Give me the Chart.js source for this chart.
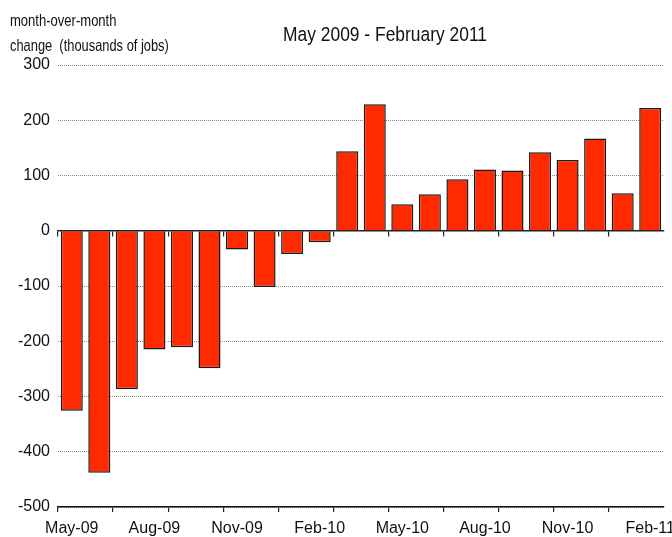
<!DOCTYPE html>
<html>
<head>
<meta charset="utf-8">
<script src="https://cdn.jsdelivr.net/npm/chart.js@4.4.1/dist/chart.umd.min.js"></script>
<style>
  html, body { margin: 0; padding: 0; background: #fff; overflow: hidden; }
  #wrap { width: 672px; height: 537px; }
</style>
</head>
<body>
<div id="wrap"><canvas id="c" width="672" height="537"></canvas></div>
<script>
// ---- data ----
const months = ['May-09','Jun-09','Jul-09','Aug-09','Sep-09','Oct-09','Nov-09','Dec-09',
                'Jan-10','Feb-10','Mar-10','Apr-10','May-10','Jun-10','Jul-10','Aug-10',
                'Sep-10','Oct-10','Nov-10','Dec-10','Jan-11','Feb-11'];
const jobChange = [-326, -438, -287, -215, -211, -249, -34, -102, -42, -21,
                   144, 229, 48, 66, 93, 111, 109, 142, 128, 167, 68, 222];
const yTicks = [300, 200, 100, 0, -100, -200, -300, -400, -500];
const chartTitle = 'May 2009 - February 2011';
const axisTitle = ['month-over-month', 'change  (thousands of jobs)'];

const FONT = '"Liberation Sans", Arial, sans-serif';

// draws condensed text (horizontally squeezed) as real canvas text
function condensedText(ctx, txt, x, y, size, squeeze) {
  ctx.save();
  ctx.translate(x, y);
  ctx.scale(squeeze, 1);
  ctx.font = size + 'px ' + FONT;
  ctx.fillText(txt, 0, 0);
  ctx.restore();
}

const textPlugin = {
  id: 'texts',
  afterDraw(chart) {
    const ctx = chart.ctx;
    ctx.save();
    ctx.fillStyle = '#111';
    ctx.textAlign = 'left';
    ctx.textBaseline = 'alphabetic';
    condensedText(ctx, chartTitle, 283, 41, 20.5, 0.85);
    condensedText(ctx, axisTitle[0], 10, 26, 16.5, 0.79);
    condensedText(ctx, axisTitle[1], 10, 51, 16.5, 0.78);
    ctx.restore();
  }
};

const tickMarkColor = (c) => (c.index % 2 === 0 ? '#222' : 'rgba(0,0,0,0)');

new Chart(document.getElementById('c'), {
  type: 'bar',
  data: {
    labels: months,
    datasets: [{
      data: jobChange,
      backgroundColor: '#ff2a00',
      borderColor: '#1a1a1a',
      borderWidth: 1.5,
      barPercentage: 0.8,
      categoryPercentage: 1.0
    }]
  },
  options: {
    responsive: false,
    animation: false,
    devicePixelRatio: 1,
    layout: { padding: { left: 0, right: 8, top: 65, bottom: 0 } },
    plugins: { legend: { display: false }, title: { display: false }, tooltip: { enabled: false } },
    scales: {
      x: {
        type: 'category',
        position: 'bottom',
        offset: true,
        grid: { display: true, offset: true, drawOnChartArea: false, drawTicks: true, tickLength: 5,
                color: tickMarkColor, lineWidth: 1.2 },
        border: { display: true, color: '#111', width: 1.5 },
        ticks: {
          autoSkip: false, maxRotation: 0, minRotation: 0, padding: 7,
          color: '#111', font: { family: FONT, size: 16 },
          callback: function(v, i) { return i % 3 === 0 ? months[i] : ''; }
        },
        afterFit(s) { s.height = 30; s.paddingLeft = 0; s.paddingRight = 0; }
      },
      x0: {
        type: 'category',
        position: { y: 0 },
        offset: true,
        grid: { display: true, offset: true, drawOnChartArea: false, drawTicks: true, tickLength: 5,
                color: tickMarkColor, lineWidth: 1.2 },
        border: { display: true, color: '#222', width: 1.5, z: 1 },
        ticks: { display: false },
        z: 1
      },
      y: {
        min: -500, max: 300,
        afterBuildTicks(s) { s.ticks = yTicks.map(v => ({ value: v })); },
        grid: { display: true, drawTicks: false, color: '#8a8a8a', lineWidth: 1 },
        border: { display: false, dash: [1, 1] },
        ticks: { padding: 8, color: '#111', font: { family: FONT, size: 16 } },
        afterFit(s) { s.width = 58; s.paddingTop = 0; s.paddingBottom = 0; }
      }
    }
  },
  plugins: [textPlugin]
});
</script>
</body>
</html>
